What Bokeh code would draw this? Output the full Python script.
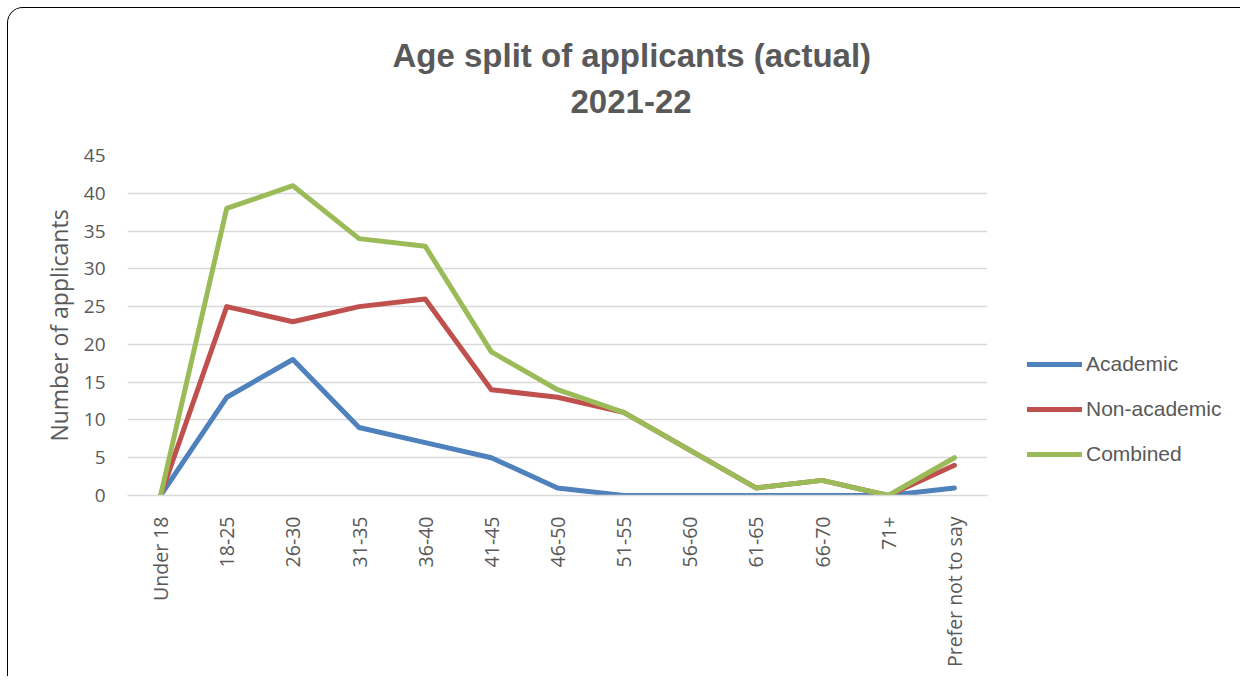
import numpy as np
from bokeh.plotting import figure
from bokeh.models import Legend, LegendItem, Title, FixedTicker
from bokeh.embed import file_html
from bokeh.resources import INLINE

categories = ["Under 18", "18-25", "26-30", "31-35", "36-40", "41-45", "46-50",
              "51-55", "56-60", "61-65", "66-70", "71+", "Prefer not to say"]
academic = [0, 13, 18, 9, 7, 5, 1, 0, 0, 0, 0, 0, 1]
non_academic = [0, 25, 23, 25, 26, 14, 13, 11, 6, 1, 2, 0, 4]
combined = [0, 38, 41, 34, 33, 19, 14, 11, 6, 1, 2, 0, 5]
y_ticks = [0, 5, 10, 15, 20, 25, 30, 35, 40, 45]
title_lines = ["Age split of applicants (actual)", "2021-22"]
y_label = "Number of applicants"

p = figure(frame_width=860, frame_height=340, x_range=categories, y_range=(0, 45),
           output_backend="svg", toolbar_location=None,
           min_border_left=119, min_border_right=237,
           min_border_top=147, min_border_bottom=181)
p.styles = {"border": "1.5px solid #000000", "border-bottom": "none",
            "border-radius": "16px 16px 0 0",
            "box-sizing": "border-box", "overflow": "hidden",
            "margin-left": "7px", "margin-top": "7px"}
p.outline_line_color = None
p.background_fill_color = "white"
p.border_fill_color = "white"

p.xgrid.grid_line_color = None
p.ygrid.grid_line_color = "#D9D9D9"
p.ygrid.grid_line_width = 1.5
p.yaxis.ticker = FixedTicker(ticks=y_ticks)

for ax in (p.xaxis, p.yaxis):
    ax.major_tick_line_color = None
    ax.minor_tick_line_color = None
    ax.major_label_text_color = "#595959"
    ax.major_label_text_font = "Open Sans"
p.xaxis.major_label_text_font_size = "19.5px"
p.yaxis.major_label_text_font_size = "19px"
p.yaxis.axis_line_color = None
p.xaxis.axis_line_color = "#D9D9D9"
p.xaxis.axis_line_width = 1.5
p.xaxis.major_label_orientation = np.pi / 2
p.xaxis.major_label_standoff = 15
p.yaxis.major_label_standoff = 16
p.yaxis.axis_label = y_label
p.yaxis.axis_label_text_font = "Open Sans"
p.yaxis.axis_label_text_font_style = "normal"
p.yaxis.axis_label_text_font_size = "23px"
p.yaxis.axis_label_text_color = "#595959"
p.yaxis.axis_label_standoff = 6

colors = ["#4F81BD", "#C0504D", "#9BBB59"]
names = ["Academic", "Non-academic", "Combined"]
items = []
for vals, c, n in zip([academic, non_academic, combined], colors, names):
    r = p.line(categories, vals, line_color=c, line_width=5,
               line_join="round", line_cap="round")
    items.append(LegendItem(label=n, renderers=[r]))

legend = Legend(items=items, location=(40, 29), orientation="vertical",
                glyph_width=55, glyph_height=20, label_height=20,
                spacing=21, padding=0, margin=0, label_standoff=4,
                label_text_font="Liberation Sans",
                label_text_font_size="21px", label_text_color="#595959",
                border_line_color=None, background_fill_alpha=0)
p.add_layout(legend, "right")

# empty spacer between the frame and the two-line title
p.add_layout(Title(text=" ", text_font_size="1px", standoff=40), "above")
# second line first (closer to the frame), then the main line above it
for t, so, off in zip(reversed(title_lines), [0, 28], [443, 265]):
    p.add_layout(Title(text=t, align="left", offset=off, standoff=so,
                       text_font="Liberation Sans", text_font_style="bold",
                       text_font_size="33px", text_color="#595959"), "above")

open("out.html", "w").write(file_html(p, INLINE))
